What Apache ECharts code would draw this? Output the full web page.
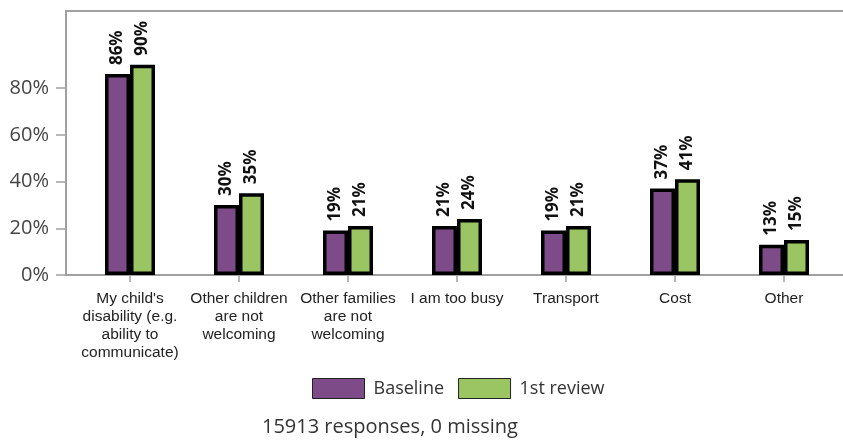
<!DOCTYPE html>
<html>
<head>
<meta charset="utf-8">
<script src="https://cdn.jsdelivr.net/npm/echarts@6/dist/echarts.min.js"></script>
<style>
    html, body { margin: 0; padding: 0; background: #fff; }
    #chart { width: 843px; height: 441px; }
</style>
</head>
<body>
<div id="chart"></div>
<script>
/* data */
var categories = [
    "My child's\ndisability (e.g.\nability to\ncommunicate)",
    'Other children\nare not\nwelcoming',
    'Other families\nare not\nwelcoming',
    'I am too busy',
    'Transport',
    'Cost',
    'Other'
];
var baseline = [86, 30, 19, 21, 19, 37, 13];
var review = [90, 35, 21, 24, 21, 41, 15];
var yTicks = [0, 20, 40, 60, 80];
var seriesNames = ['Baseline', '1st review'];
var footNote = '15913 responses, 0 missing';

(function () {
    var purple = '#7d4b87';
    var green = '#9bc462';
    var axisGrey = '#a0a0a0';

    var barLabel = {
        show: true,
        position: 'top',
        rotate: 90,
        align: 'left',
        verticalAlign: 'middle',
        distance: 9,
        formatter: '{c}%',
        color: '#111',
        fontFamily: 'Open Sans',
        fontWeight: 'bold',
        fontSize: 17
    };

    var makeSeries = function (name, values, color) {
        return {
            name: name,
            type: 'bar',
            data: values,
            barWidth: 25,
            barGap: '0%',
            itemStyle: {
                color: color,
                borderColor: '#000',
                borderWidth: 3.5
            },
            label: barLabel
        };
    };

    var chart = echarts.init(document.getElementById('chart'));
    chart.setOption({
        animation: false,
        grid: {
            left: 75.5,
            right: 4.5,
            top: 11,
            bottom: 166
        },
        title: {
            text: footNote,
            left: 262,
            top: 417,
            padding: 0,
            textStyle: {
                fontFamily: 'Open Sans',
                fontWeight: 'normal',
                fontSize: 20,
                color: '#333'
            }
        },
        legend: {
            left: 312,
            top: 378,
            padding: 0,
            itemWidth: 52,
            itemHeight: 20,
            itemGap: 14,
            icon: 'rect',
            data: seriesNames,
            itemStyle: {
                borderColor: '#222',
                borderWidth: 1
            },
            textStyle: {
                fontFamily: 'Open Sans',
                fontSize: 18,
                color: '#333',
                padding: [0, 0, 0, 4]
            }
        },
        xAxis: {
            type: 'category',
            data: categories,
            axisLine: { show: false },
            axisTick: {
                show: true,
                alignWithLabel: true,
                length: 7,
                lineStyle: { color: axisGrey, width: 1.5 }
            },
            axisLabel: {
                interval: 0,
                margin: 15,
                fontFamily: 'Liberation Sans',
                fontSize: 15.5,
                lineHeight: 18,
                color: '#222'
            }
        },
        yAxis: {
            type: 'value',
            min: 0,
            max: 113,
            offset: 9.5,
            splitLine: { show: false },
            axisLine: { show: false },
            axisTick: {
                show: true,
                length: 10,
                customValues: yTicks,
                lineStyle: { color: axisGrey, width: 1.5 }
            },
            axisLabel: {
                customValues: yTicks,
                margin: 17,
                formatter: '{value}%',
                fontFamily: 'Open Sans',
                fontSize: 20,
                color: '#444'
            }
        },
        graphic: [
            {
                type: 'polyline',
                silent: true,
                shape: { points: [[843, 11], [66, 11], [66, 275], [843, 275]] },
                style: { stroke: axisGrey, lineWidth: 2, fill: null }
            }
        ],
        series: [
            makeSeries(seriesNames[0], baseline, purple),
            makeSeries(seriesNames[1], review, green)
        ]
    });

    window.addEventListener('resize', function () {
        chart.resize();
    });
})();
</script>
</body>
</html>
